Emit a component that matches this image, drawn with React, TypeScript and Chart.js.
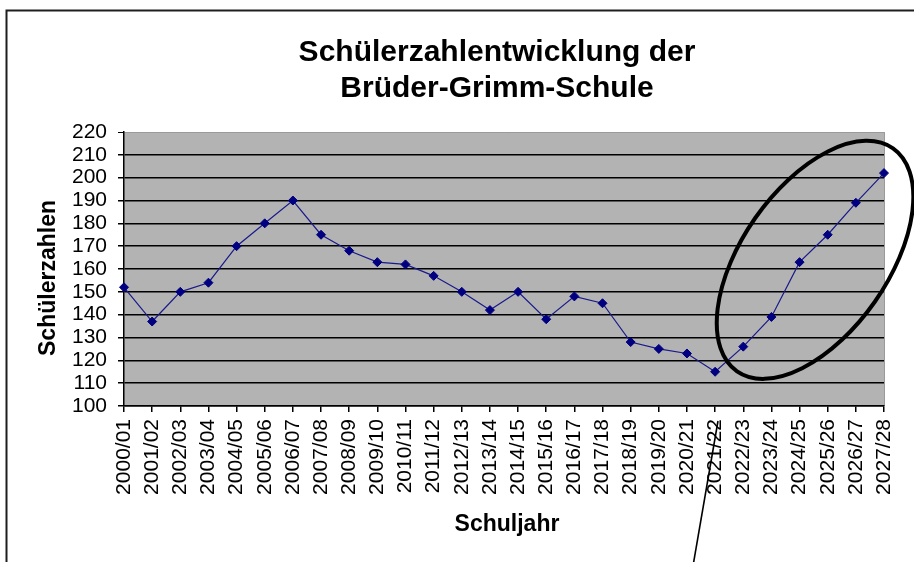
import React, { useEffect, useRef } from "react";
import { Chart, registerables } from "chart.js";

Chart.register(...registerables);

const schoolYears: string[] = [
  "2000/01", "2001/02", "2002/03", "2003/04", "2004/05", "2005/06", "2006/07",
  "2007/08", "2008/09", "2009/10", "2010/11", "2011/12", "2012/13", "2013/14",
  "2014/15", "2015/16", "2016/17", "2017/18", "2018/19", "2019/20", "2020/21",
  "2021/22", "2022/23", "2023/24", "2024/25", "2025/26", "2026/27", "2027/28",
];

const studentCounts: number[] = [
  152, 137, 150, 154, 170, 180, 190, 175, 168, 163, 162, 157, 150, 142,
  150, 138, 148, 145, 128, 125, 123, 115, 126, 139, 163, 175, 189, 202,
];

const yMin = 100;
const yMax = 220;
const yStep = 10;

const titleLines: string[] = ["Schülerzahlentwicklung der", "Brüder-Grimm-Schule"];
const yTitle = "Schülerzahlen";
const xTitle = "Schuljahr";

const FONT = "'Liberation Sans', Arial, Helvetica, sans-serif";

const decorPlugin = {
  id: "decor",
  beforeDraw(chart: any) {
    const { ctx, chartArea } = chart;
    ctx.save();
    ctx.fillStyle = "#ffffff";
    ctx.fillRect(0, 0, chart.width, chart.height);
    ctx.fillStyle = "#b3b3b3";
    ctx.fillRect(chartArea.left, chartArea.top, chartArea.right - chartArea.left, chartArea.bottom - chartArea.top);
    ctx.strokeStyle = "#9a9a9a";
    ctx.lineWidth = 1;
    ctx.beginPath();
    ctx.moveTo(chartArea.right + 0.5, chartArea.top);
    ctx.lineTo(chartArea.right + 0.5, chartArea.bottom);
    ctx.stroke();
    ctx.restore();
  },
  afterDraw(chart: any) {
    const { ctx, scales } = chart;
    const xs = scales.x;
    const ys = scales.y;
    ctx.save();
    // outer frame
    ctx.strokeStyle = "#1e1e1e";
    ctx.lineWidth = 2;
    ctx.beginPath();
    ctx.moveTo(6.5, chart.height + 2);
    ctx.lineTo(6.5, 10.5);
    ctx.lineTo(chart.width + 2, 10.5);
    ctx.stroke();

    // main title
    ctx.fillStyle = "#000";
    ctx.textAlign = "center";
    ctx.textBaseline = "alphabetic";
    ctx.font = `bold 30px ${FONT}`;
    ctx.fillText(titleLines[0], 497, 61);
    ctx.fillText(titleLines[1], 497, 97);

    // axis titles
    ctx.font = `bold 23px ${FONT}`;
    ctx.fillText(xTitle, 507, 531);
    ctx.save();
    ctx.translate(55, 278);
    ctx.rotate(-Math.PI / 2);
    ctx.fillText(yTitle, 0, 0);
    ctx.restore();

    // ellipse annotation
    const cx = xs.getPixelForValue(24.55);
    const cy = ys.getPixelForValue(164);
    ctx.strokeStyle = "#000";
    ctx.lineWidth = 4;
    ctx.beginPath();
    ctx.ellipse(cx, cy, 136, 73, (-55 * Math.PI) / 180, 0, Math.PI * 2);
    ctx.stroke();

    // pointer line
    ctx.lineWidth = 1.6;
    ctx.beginPath();
    ctx.moveTo(718, 421);
    ctx.lineTo(693, 566);
    ctx.stroke();
    ctx.restore();
  },
};

export default function App() {
  const canvasRef = useRef<HTMLCanvasElement | null>(null);

  useEffect(() => {
    if (!canvasRef.current) return;
    const chart = new Chart(canvasRef.current, {
      type: "line",
      data: {
        labels: schoolYears,
        datasets: [
          {
            label: yTitle,
            data: studentCounts,
            borderColor: "#1a1a8c",
            borderWidth: 1.2,
            pointStyle: "rectRot",
            pointRadius: 4.5,
            pointHoverRadius: 4.5,
            pointBackgroundColor: "#000080",
            pointBorderColor: "#000080",
            pointBorderWidth: 1,
            tension: 0,
          },
        ],
      },
      options: {
        responsive: false,
        animation: false,
        events: [],
        layout: { padding: { left: 0, right: 30, top: 132, bottom: 0 } },
        plugins: {
          legend: { display: false },
          tooltip: { enabled: false },
          title: { display: false },
        },
        scales: {
          x: {
            type: "category",
            offset: false,
            afterFit: (scale: any) => {
              scale.height = 156;
            },
            grid: {
              drawOnChartArea: false,
              drawTicks: true,
              tickLength: 6,
              color: "#000",
              lineWidth: 1.5,
            },
            border: { display: true, color: "#000", width: 1.5 },
            ticks: {
              autoSkip: false,
              maxRotation: 90,
              minRotation: 90,
              color: "#000",
              padding: 7,
              font: { family: FONT, size: 21, lineHeight: 1 },
            },
          },
          y: {
            min: yMin,
            max: yMax,
            afterFit: (scale: any) => {
              scale.width = 124;
            },
            grid: {
              color: (c: any) => (c.tick && c.tick.value === yMax ? "#9a9a9a" : "#000"),
              lineWidth: (c: any) => (c.tick && c.tick.value === yMax ? 1 : 1.5),
              tickColor: "#000",
              tickLength: 6,
            },
            border: { display: true, color: "#000", width: 1.5 },
            ticks: {
              stepSize: yStep,
              autoSkip: false,
              color: "#000",
              padding: 11,
              font: { family: FONT, size: 21, lineHeight: 1 },
            },
          },
        },
      },
      plugins: [decorPlugin],
    });
    return () => chart.destroy();
  }, []);

  return (
    <div style={{ position: "fixed", left: 0, top: 0, width: 914, height: 562, background: "#fff" }}>
      <canvas ref={canvasRef} width={914} height={562} style={{ display: "block" }} />
    </div>
  );
}
